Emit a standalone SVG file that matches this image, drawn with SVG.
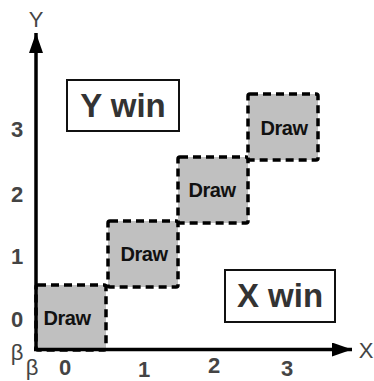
<svg xmlns="http://www.w3.org/2000/svg" width="374" height="381" viewBox="0 0 374 381">
<style>
.draw rect{fill:#c0c0c0;stroke:#000;stroke-width:3.5;stroke-dasharray:8 5;}
.draw text{font-family:"Liberation Sans",Arial,sans-serif;font-weight:bold;font-size:20px;fill:#111;text-anchor:middle;letter-spacing:-0.5px;}
.win rect{fill:#fff;stroke:#111;stroke-width:2;}
.win text{font-family:"Liberation Sans",Arial,sans-serif;font-weight:bold;font-size:33px;fill:#333;text-anchor:middle;}
.num{font-family:"Liberation Sans",Arial,sans-serif;font-weight:bold;font-size:22px;fill:#444;text-anchor:middle;}
.lab{font-family:"Liberation Sans",Arial,sans-serif;font-size:22px;fill:#444;text-anchor:middle;}
.axis{stroke:#000;stroke-width:3.5;fill:none;}
</style>
<defs>
<marker id="ah" viewBox="0 0 20 14" refX="20" refY="7" markerUnits="userSpaceOnUse" markerWidth="20" markerHeight="14" orient="auto">
<path d="M0,0 L20,7 L0,14 Z" fill="#000"/>
</marker>
</defs>
<g id="cells">
<g id="draw0" class="draw"><rect x="36" y="285" width="70" height="65" rx="2"/><text x="67" y="325">Draw</text></g>
<g id="draw1" class="draw"><rect x="108" y="221" width="70" height="66" rx="2"/><text x="144" y="261">Draw</text></g>
<g id="draw2" class="draw"><rect x="178" y="157" width="70" height="66" rx="2"/><text x="212" y="197">Draw</text></g>
<g id="draw3" class="draw"><rect x="248" y="94" width="70" height="66" rx="2"/><text x="284" y="135">Draw</text></g>
</g>
<g id="ywin" class="win"><rect x="67" y="80" width="112" height="51"/><text x="123" y="117">Y win</text></g>
<g id="xwin" class="win"><rect x="225" y="270" width="110" height="52"/><text x="280" y="307">X win</text></g>
<g id="connectors">
<line class="axis" x1="36" y1="351" x2="36" y2="33" marker-end="url(#ah)"/>
<line class="axis" x1="34" y1="349.5" x2="352" y2="349.5" marker-end="url(#ah)"/>
</g>
<g id="labels">
<text class="lab" x="36" y="27">Y</text>
<text class="lab" x="366" y="358">X</text>
<text class="num" x="17" y="137">3</text>
<text class="num" x="17" y="202">2</text>
<text class="num" x="17" y="264">1</text>
<text class="num" x="17" y="327">0</text>
<text class="lab" x="17" y="360">β</text>
<text class="lab" x="32" y="375">β</text>
<text class="num" x="65" y="375">0</text>
<text class="num" x="144" y="377">1</text>
<text class="num" x="214" y="373">2</text>
<text class="num" x="287" y="376">3</text>
</g>
</svg>
